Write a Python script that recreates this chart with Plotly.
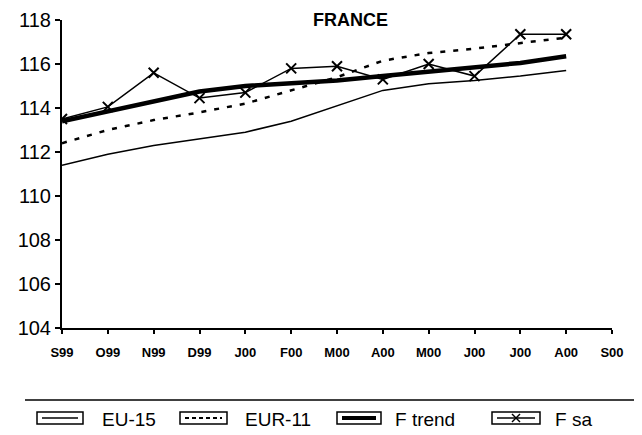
import plotly.graph_objects as go

categories = ["S99", "O99", "N99", "D99", "J00", "F00", "M00", "A00", "M00 ", "J00 ", "J00  ", "A00 ", "S00"]
tick_labels = ["S99", "O99", "N99", "D99", "J00", "F00", "M00", "A00", "M00", "J00", "J00", "A00", "S00"]

eu15 = [111.4, 111.9, 112.3, 112.6, 112.9, 113.4, 114.1, 114.8, 115.1, 115.25, 115.45, 115.7]
eur11 = [112.4, 113.0, 113.45, 113.8, 114.2, 114.8, 115.4, 116.15, 116.5, 116.7, 116.95, 117.2]
f_trend = [113.4, 113.85, 114.3, 114.75, 115.0, 115.1, 115.25, 115.45, 115.65, 115.8, 116.05, 116.35]
f_sa = [113.5, 114.05, 115.6, 114.45, 114.7, 115.8, 115.9, 115.3, 116.0, 115.45, 117.35, 117.35]

series_names = ["EU-15", "EUR-11", "F trend", "F sa"]
y_ticks = [104, 106, 108, 110, 112, 114, 116, 118]

x_data = categories[:12]

fig = go.Figure()
fig.add_trace(go.Scatter(x=x_data, y=eu15, name=series_names[0], mode="lines",
                         line=dict(color="black", width=1.5)))
fig.add_trace(go.Scatter(x=x_data, y=eur11, name=series_names[1], mode="lines",
                         line=dict(color="black", width=2.5, dash="5px,8px")))
fig.add_trace(go.Scatter(x=x_data, y=f_trend, name=series_names[2], mode="lines",
                         line=dict(color="black", width=4.5)))
fig.add_trace(go.Scatter(x=x_data, y=f_sa, name=series_names[3], mode="lines+markers",
                         line=dict(color="black", width=1.5),
                         marker=dict(symbol="x-thin-open", size=10, color="black",
                                     line=dict(color="black", width=2))))

# page body has an 8px margin; work in reference-page pixels and shift
OFF = 8
W, H = 642 - OFF, 435 - OFF
L, T = 62 - OFF, 20 - OFF
R = W - (612 - OFF)
B = H - (328 - OFF)
pw = W - L - R
ph = H - T - B

def px(x):
    return (x - OFF - L) / pw

def py(y):
    return (H - B - (y - OFF)) / ph

shapes = [dict(type="line", xref="paper", yref="paper", x0=px(25), x1=px(650),
               y0=py(400), y1=py(400), line=dict(color="black", width=1.5))]
annotations = [dict(text="<b>FRANCE</b>", xref="paper", yref="paper",
                    x=px(350), y=py(8), xanchor="center", yanchor="top",
                    showarrow=False, font=dict(size=18, color="black"))]

# manual legend
boxes = [(37, 83), (180, 227), (337, 381), (492, 540)]
label_x = [100, 243, 393, 553]
styles = [dict(width=1.5), dict(width=2, dash="4px,3px"), dict(width=4), dict(width=1.5)]
for (x0, x1), lx, st, name in zip(boxes, label_x, styles, series_names):
    shapes.append(dict(type="rect", xref="paper", yref="paper", x0=px(x0), x1=px(x1),
                       y0=py(424), y1=py(412), line=dict(color="black", width=1.5)))
    shapes.append(dict(type="line", xref="paper", yref="paper", x0=px(x0 + 5), x1=px(x1 - 5),
                       y0=py(418), y1=py(418), line=dict(color="black", **st)))
    annotations.append(dict(text=name, xref="paper", yref="paper", x=px(lx), y=py(419),
                            xanchor="left", yanchor="middle", showarrow=False,
                            font=dict(size=19, color="black")))
cx = (boxes[3][0] + boxes[3][1]) / 2
for dx in (-1, 1):
    shapes.append(dict(type="line", xref="paper", yref="paper", x0=px(cx - 4), x1=px(cx + 4),
                       y0=py(418 - 4 * dx), y1=py(418 + 4 * dx), line=dict(color="black", width=1.5)))

fig.update_layout(
    width=W, height=H,
    margin=dict(l=L, r=R, t=T, b=B, autoexpand=False),
    paper_bgcolor="white", plot_bgcolor="white",
    font=dict(family="Liberation Sans, Arial, sans-serif", color="black"),
    showlegend=False,
    shapes=shapes,
    annotations=annotations,
    xaxis=dict(type="category", categoryorder="array", categoryarray=categories,
               range=[0, 12], tickvals=categories, ticktext=tick_labels,
               showline=True, linecolor="black", linewidth=2, showgrid=False,
               zeroline=False, ticks="outside", ticklen=4, tickwidth=1.5,
               tickcolor="black", ticklabelstandoff=7,
               tickfont=dict(size=13, family="Liberation Sans, Arial", weight="bold")),
    yaxis=dict(range=[104, 118], tickvals=y_ticks, showline=True, linecolor="black",
               linewidth=2, showgrid=False, zeroline=False, ticks="outside",
               ticklen=5, tickwidth=1.5, tickcolor="black", tickfont=dict(size=20)),
)

fig.write_html("out.html")
